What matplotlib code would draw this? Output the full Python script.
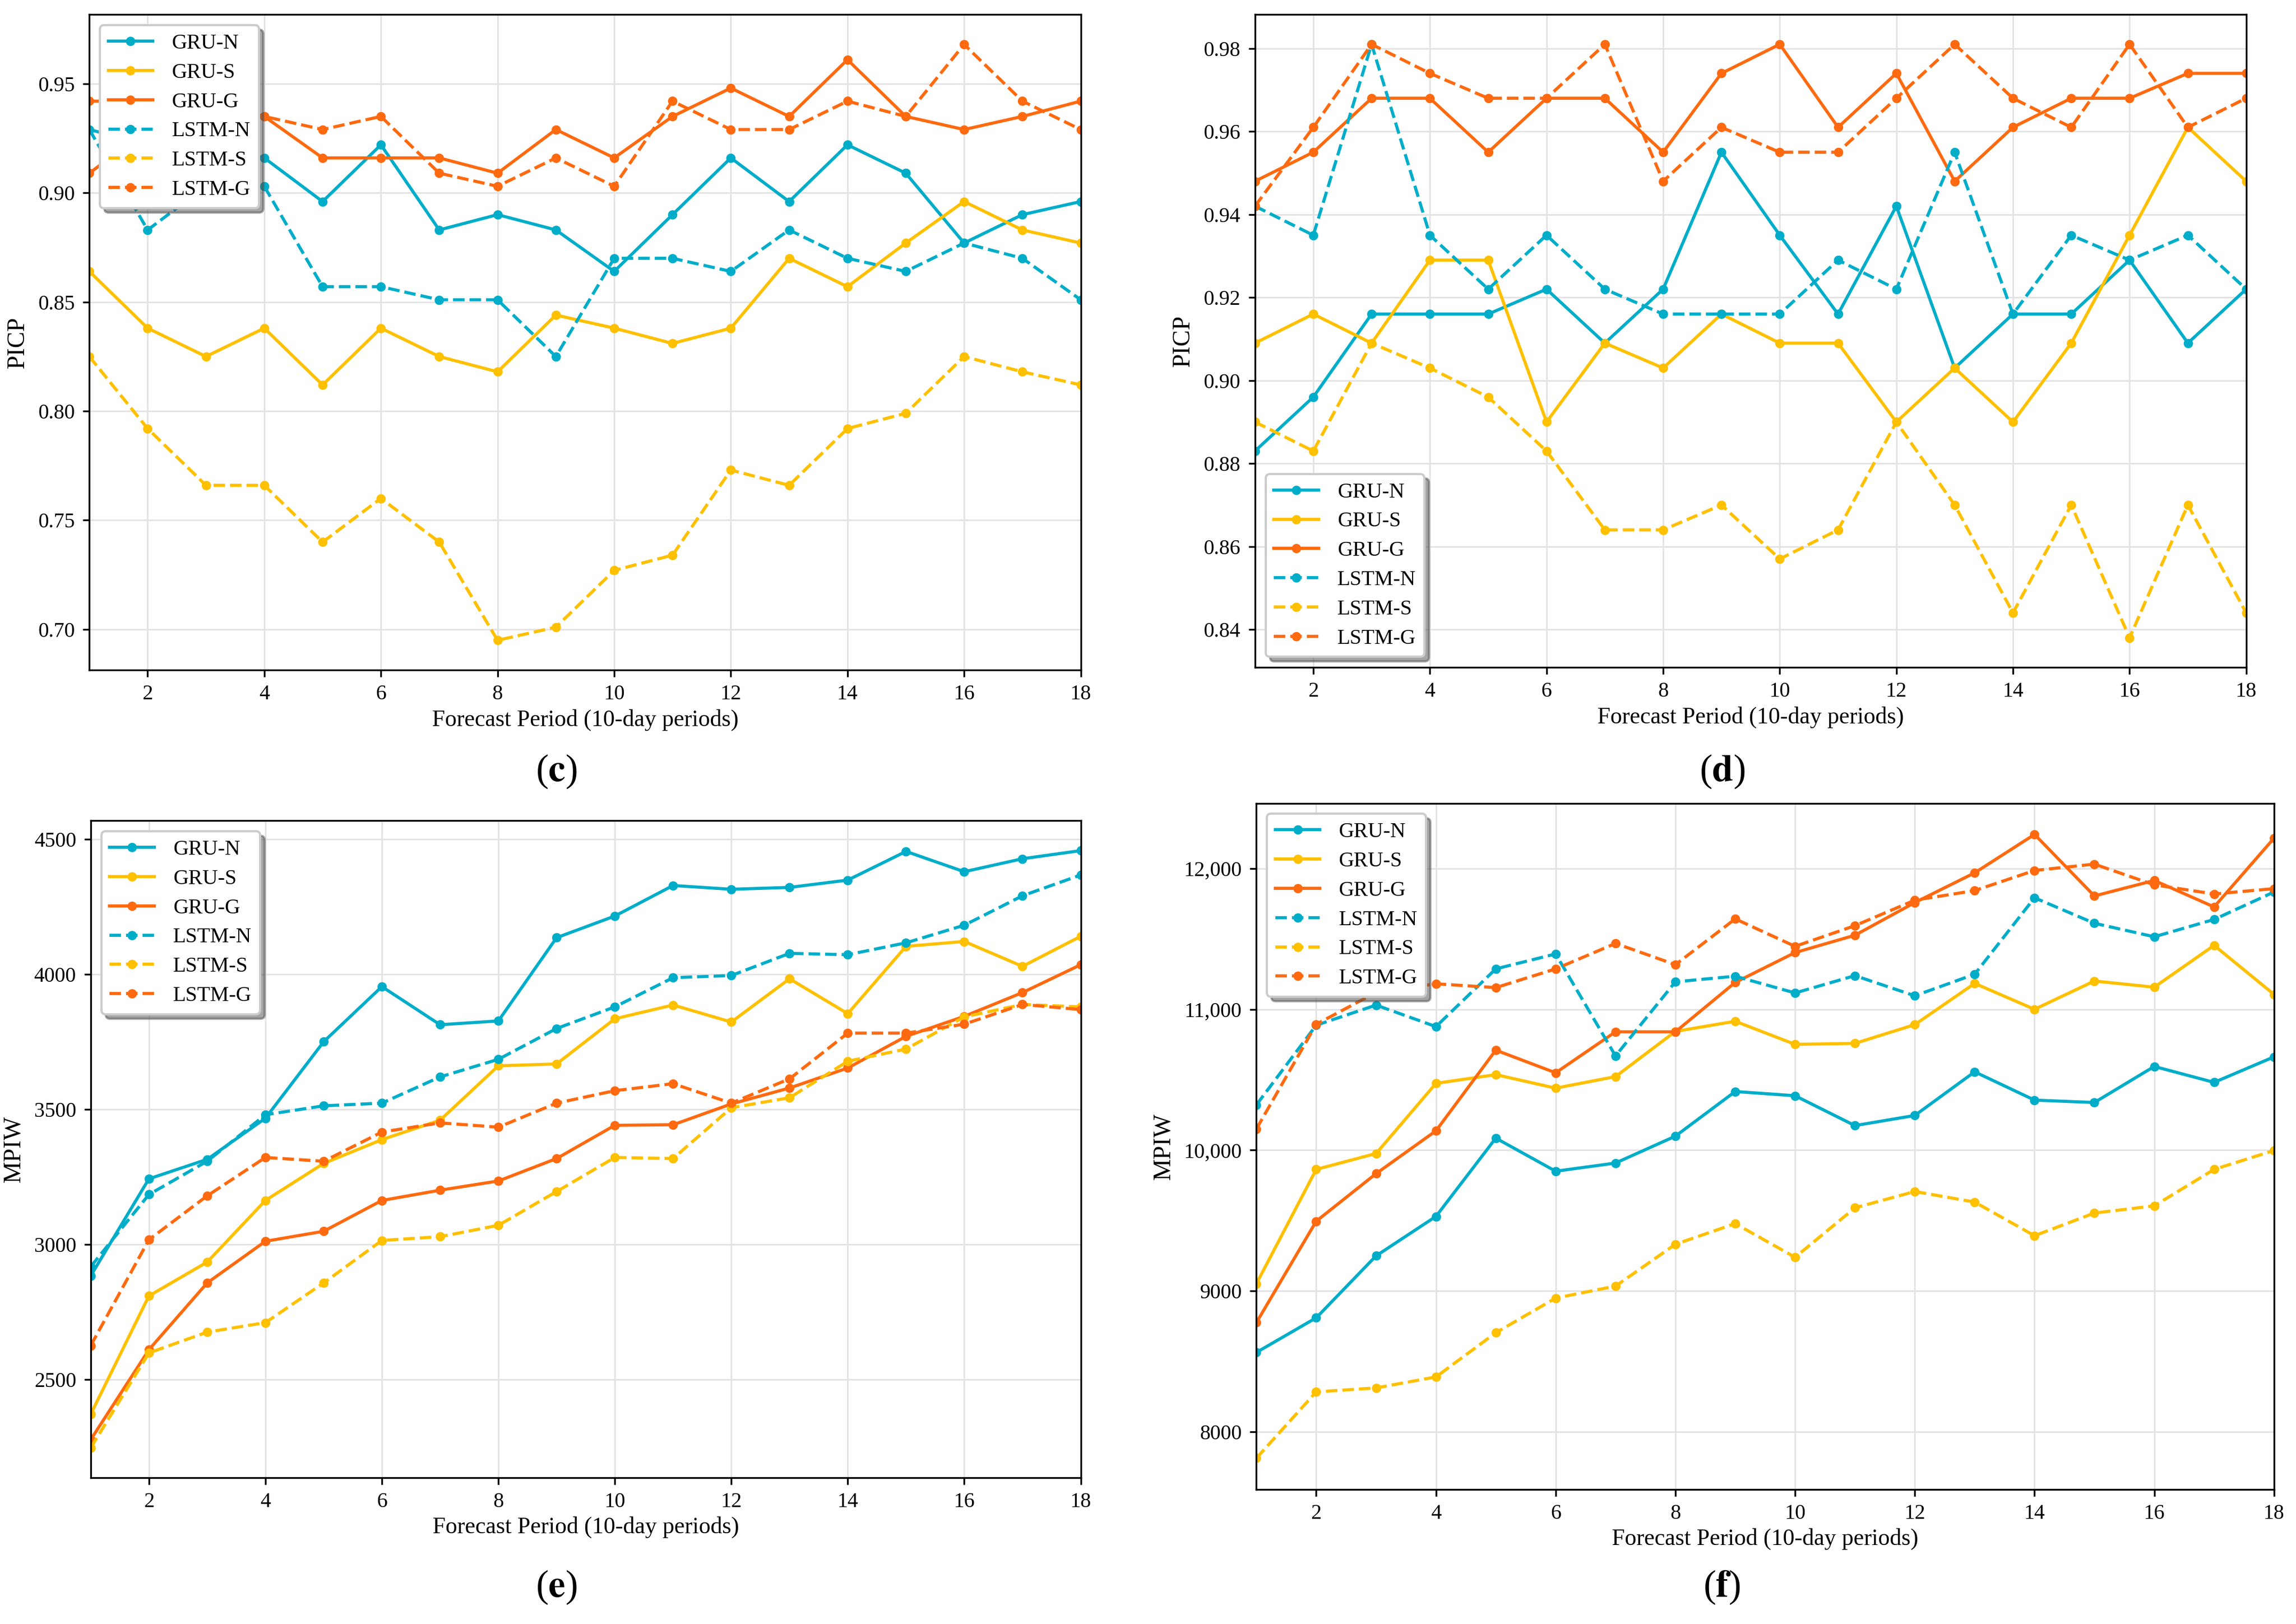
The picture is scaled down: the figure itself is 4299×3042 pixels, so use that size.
import matplotlib
matplotlib.use('Agg')
import matplotlib.pyplot as plt
from matplotlib.ticker import FuncFormatter

plt.rcParams['font.family'] = ['Liberation Serif', 'DejaVu Serif']
plt.rcParams['mathtext.fontset'] = 'stix'

periods = list(range(1, 19))
labels = ['GRU-N', 'GRU-S', 'GRU-G', 'LSTM-N', 'LSTM-S', 'LSTM-G']
colors = ['#00ADC9', '#FFC000', '#FF6A10', '#00ADC9', '#FFC000', '#FF6A10']
styles = ['-', '-', '-', '--', '--', '--']

# (c) PICP
c_gru_n = [0.929, 0.922, 0.922, 0.916, 0.896, 0.922, 0.883, 0.890, 0.883,
           0.864, 0.890, 0.916, 0.896, 0.922, 0.909, 0.877, 0.890, 0.896]
c_gru_s = [0.864, 0.838, 0.825, 0.838, 0.812, 0.838, 0.825, 0.818, 0.844,
           0.838, 0.831, 0.838, 0.870, 0.857, 0.877, 0.896, 0.883, 0.877]
c_gru_g = [0.909, 0.929, 0.942, 0.935, 0.916, 0.916, 0.916, 0.909, 0.929,
           0.916, 0.935, 0.948, 0.935, 0.961, 0.935, 0.929, 0.935, 0.942]
c_lstm_n = [0.929, 0.883, 0.903, 0.903, 0.857, 0.857, 0.851, 0.851, 0.825,
            0.870, 0.870, 0.864, 0.883, 0.870, 0.864, 0.877, 0.870, 0.851]
c_lstm_s = [0.825, 0.792, 0.766, 0.766, 0.740, 0.760, 0.740, 0.695, 0.701,
            0.727, 0.734, 0.773, 0.766, 0.792, 0.799, 0.825, 0.818, 0.812]
c_lstm_g = [0.942, 0.942, 0.942, 0.935, 0.929, 0.935, 0.909, 0.903, 0.916,
            0.903, 0.942, 0.929, 0.929, 0.942, 0.935, 0.968, 0.942, 0.929]

# (d) PICP
d_gru_n = [0.883, 0.896, 0.916, 0.916, 0.916, 0.922, 0.909, 0.922, 0.955,
           0.935, 0.916, 0.942, 0.903, 0.916, 0.916, 0.929, 0.909, 0.922]
d_gru_s = [0.909, 0.916, 0.909, 0.929, 0.929, 0.890, 0.909, 0.903, 0.916,
           0.909, 0.909, 0.890, 0.903, 0.890, 0.909, 0.935, 0.961, 0.948]
d_gru_g = [0.948, 0.955, 0.968, 0.968, 0.955, 0.968, 0.968, 0.955, 0.974,
           0.981, 0.961, 0.974, 0.948, 0.961, 0.968, 0.968, 0.974, 0.974]
d_lstm_n = [0.942, 0.935, 0.981, 0.935, 0.922, 0.935, 0.922, 0.916, 0.916,
            0.916, 0.929, 0.922, 0.955, 0.916, 0.935, 0.929, 0.935, 0.922]
d_lstm_s = [0.890, 0.883, 0.909, 0.903, 0.896, 0.883, 0.864, 0.864, 0.870,
            0.857, 0.864, 0.890, 0.870, 0.844, 0.870, 0.838, 0.870, 0.844]
d_lstm_g = [0.942, 0.961, 0.981, 0.974, 0.968, 0.968, 0.981, 0.948, 0.961,
            0.955, 0.955, 0.968, 0.981, 0.968, 0.961, 0.981, 0.961, 0.968]

# (e) MPIW
e_gru_n = [2884, 3243, 3315, 3467, 3750, 3954, 3813, 3827, 4135,
           4215, 4328, 4314, 4321, 4348, 4454, 4379, 4427, 4457]
e_gru_s = [2372, 2810, 2935, 3163, 3300, 3388, 3460, 3661, 3668,
           3835, 3886, 3823, 3983, 3854, 4103, 4121, 4029, 4140]
e_gru_g = [2278, 2611, 2858, 3012, 3049, 3163, 3201, 3235, 3318,
           3441, 3443, 3520, 3579, 3653, 3770, 3844, 3932, 4035]
e_lstm_n = [2918, 3185, 3308, 3480, 3513, 3523, 3620, 3685, 3799,
            3879, 3987, 3995, 4077, 4072, 4116, 4181, 4290, 4367]
e_lstm_s = [2248, 2599, 2676, 2711, 2858, 3015, 3029, 3071, 3196,
            3322, 3318, 3506, 3543, 3678, 3723, 3842, 3888, 3879]
e_lstm_g = [2626, 3018, 3180, 3322, 3308, 3416, 3450, 3434, 3523,
            3569, 3595, 3523, 3613, 3782, 3782, 3815, 3888, 3869]

# (f) MPIW
f_gru_n = [8563, 8809, 9249, 9529, 10085, 9850, 9908, 10099, 10416,
           10386, 10174, 10246, 10556, 10355, 10338, 10594, 10481, 10662]
f_gru_s = [9051, 9863, 9976, 10474, 10536, 10440, 10522, 10843, 10915,
           10751, 10758, 10891, 11184, 11000, 11201, 11157, 11454, 11106]
f_gru_g = [8775, 9495, 9833, 10137, 10710, 10549, 10840, 10840, 11191,
           11403, 11526, 11758, 11969, 12242, 11805, 11915, 11727, 12215]
f_lstm_n = [10321, 10887, 11030, 10877, 11287, 11393, 10669, 11195, 11235,
            11116, 11239, 11096, 11249, 11792, 11611, 11515, 11638, 11833]
f_lstm_s = [7812, 8283, 8311, 8389, 8703, 8949, 9034, 9331, 9478,
            9239, 9590, 9706, 9631, 9392, 9553, 9604, 9863, 9997]
f_lstm_g = [10150, 10894, 11120, 11181, 11154, 11287, 11468, 11317, 11642,
            11447, 11594, 11775, 11843, 11986, 12031, 11884, 11819, 11857]

panels = [
    ([0.0389, 0.5874, 0.4318, 0.4036], [c_gru_n, c_gru_s, c_gru_g, c_lstm_n, c_lstm_s, c_lstm_g],
     'PICP', 'upper left', 'c', (0.2423, 0.525)),
    ([0.5466, 0.5890, 0.4317, 0.4020], [d_gru_n, d_gru_s, d_gru_g, d_lstm_n, d_lstm_s, d_lstm_g],
     'PICP', 'lower left', 'd', (0.750, 0.525)),
    ([0.0395, 0.0901, 0.4312, 0.4045], [e_gru_n, e_gru_s, e_gru_g, e_lstm_n, e_lstm_s, e_lstm_g],
     'MPIW', 'upper left', 'e', (0.2423, 0.0225)),
    ([0.5472, 0.0829, 0.4432, 0.4225], [f_gru_n, f_gru_s, f_gru_g, f_lstm_n, f_lstm_s, f_lstm_g],
     'MPIW', 'upper left', 'f', (0.750, 0.0225)),
]

fig = plt.figure(figsize=(14.33, 10.14), dpi=300)

for rect, series, ylab, loc, tag, tagpos in panels:
    ax = fig.add_axes(rect)
    for vals, lab, col, ls in zip(series, labels, colors, styles):
        ax.plot(periods, vals, ls, color=col, lw=1.4, marker='o', ms=3.2, label=lab)
    ax.set_xlim(1, 18)
    ax.set_xticks(range(2, 19, 2))
    ax.grid(True, color='#e3e3e3', lw=0.7)
    ax.set_axisbelow(True)
    ax.tick_params(labelsize=9.5, length=3)
    ax.set_xlabel('Forecast Period (10-day periods)', fontsize=10.5, labelpad=2)
    ax.set_ylabel(ylab, fontsize=11)
    if tag == 'f':
        ax.yaxis.set_major_formatter(
            FuncFormatter(lambda v, p: f'{v:,.0f}' if v >= 10000 else f'{v:.0f}'))
    leg = ax.legend(loc=loc, fontsize=9.5, framealpha=1, shadow=True,
                    handlelength=2.1, handletextpad=0.9, labelspacing=0.45)
    leg.get_frame().set_edgecolor('#cccccc')
    fig.text(tagpos[0], tagpos[1], r'($\mathbf{' + tag + r'}$)', fontsize=17,
             ha='center', va='center')

fig.savefig('out.png', dpi=300)
